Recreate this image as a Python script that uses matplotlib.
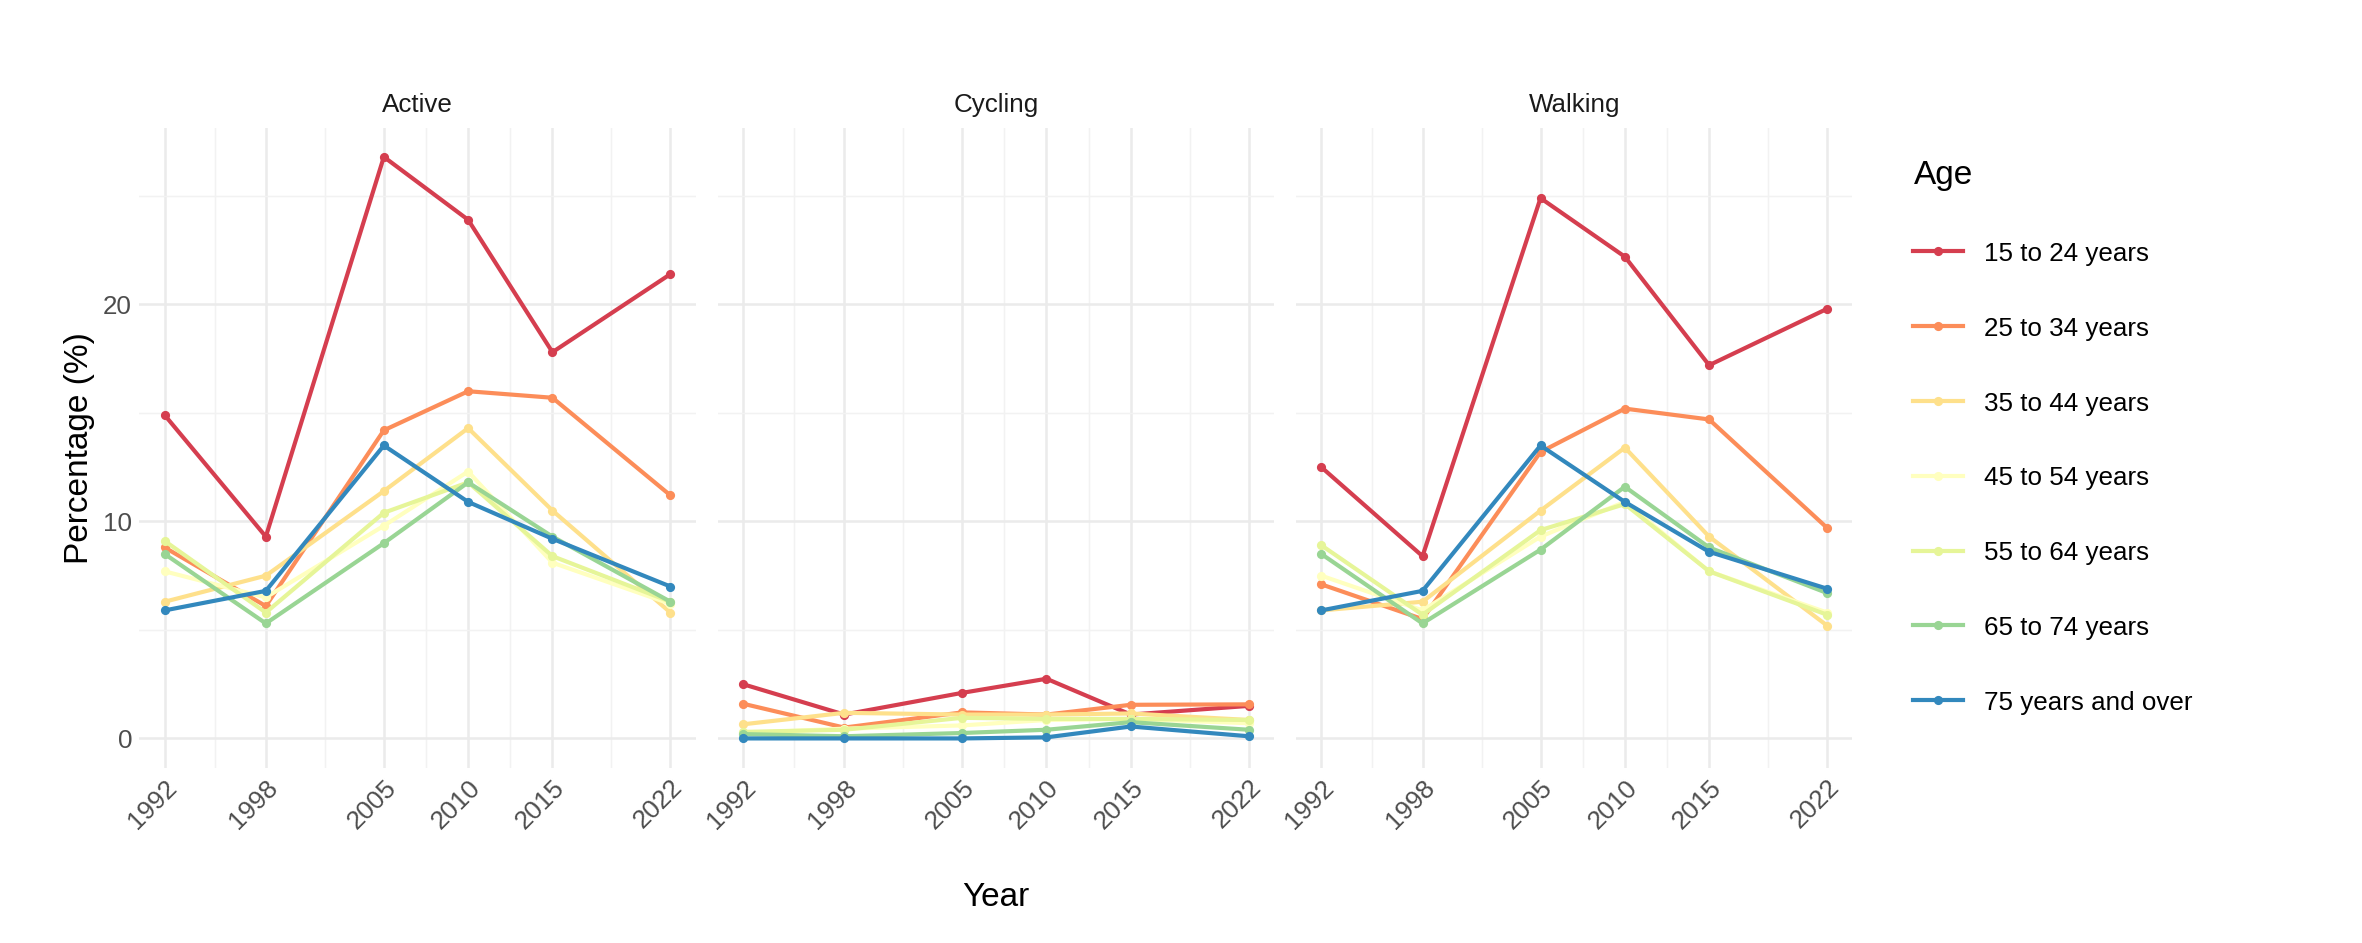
import matplotlib.pyplot as plt

plt.rcParams['font.family'] = ['Liberation Sans', 'DejaVu Sans']

years = [1992, 1998, 2005, 2010, 2015, 2022]
ages = ["15 to 24 years", "25 to 34 years", "35 to 44 years", "45 to 54 years",
        "55 to 64 years", "65 to 74 years", "75 years and over"]
colors = ["#D53E4F", "#FC8D59", "#FEE08B", "#FFFFBF", "#E6F598", "#99D594", "#3288BD"]

active = [
    [14.9, 9.3, 26.8, 23.9, 17.8, 21.4],
    [8.8, 6.1, 14.2, 16.0, 15.7, 11.2],
    [6.3, 7.5, 11.4, 14.3, 10.5, 5.8],
    [7.7, 6.5, 9.8, 12.3, 8.1, 6.2],
    [9.1, 5.8, 10.4, 11.8, 8.4, 6.3],
    [8.5, 5.3, 9.0, 11.8, 9.3, 6.3],
    [5.9, 6.8, 13.5, 10.9, 9.2, 7.0],
]
cycling = [
    [2.5, 1.1, 2.1, 2.75, 1.1, 1.5],
    [1.6, 0.5, 1.2, 1.1, 1.55, 1.57],
    [0.65, 1.18, 1.1, 1.1, 1.15, 0.85],
    [0.25, 0.45, 0.6, 0.85, 0.9, 0.7],
    [0.3, 0.4, 0.95, 0.9, 0.9, 0.85],
    [0.2, 0.1, 0.25, 0.4, 0.75, 0.4],
    [0.0, 0.0, 0.0, 0.05, 0.55, 0.1],
]
walking = [
    [12.5, 8.4, 24.9, 22.2, 17.2, 19.8],
    [7.1, 5.5, 13.2, 15.2, 14.7, 9.7],
    [5.9, 6.3, 10.5, 13.4, 9.3, 5.2],
    [7.5, 5.9, 9.3, 10.9, 7.7, 5.8],
    [8.9, 5.7, 9.6, 10.8, 7.7, 5.7],
    [8.5, 5.3, 8.7, 11.6, 8.8, 6.7],
    [5.9, 6.8, 13.5, 10.9, 8.6, 6.9],
]
panels = [("Active", active), ("Cycling", cycling), ("Walking", walking)]

fig = plt.figure(figsize=(15.75, 6.29), dpi=150)
left, width, gap = 0.059, 0.2355, 0.0093
bottom, height = 0.186, 0.678
ymax = 26.8
ylim = (-0.05 * ymax, ymax * 1.05)
minor_x = [1995, 2001.5, 2007.5, 2012.5, 2018.5]

axes = []
for i, (name, data) in enumerate(panels):
    ax = fig.add_axes([left + i * (width + gap), bottom, width, height])
    axes.append(ax)
    for j, series in enumerate(data):
        ax.plot(years, series, color=colors[j], lw=2.0, marker='o', ms=3.4,
                label=ages[j], zorder=3)
    ax.set_xlim(1990.5, 2023.5)
    ax.set_ylim(*ylim)
    ax.set_xticks(years)
    ax.set_xticks(minor_x, minor=True)
    ax.set_yticks([0, 10, 20])
    ax.set_yticks([5, 15, 25], minor=True)
    ax.grid(which='major', color='#EBEBEB', lw=1.2, zorder=0)
    ax.grid(which='minor', color='#F2F2F2', lw=0.7, zorder=0)
    for s in ax.spines.values():
        s.set_visible(False)
    ax.tick_params(which='both', length=0, labelsize=12.5, colors='#4D4D4D')
    for lab in ax.get_xticklabels():
        lab.set_rotation(45)
        lab.set_ha('right')
        lab.set_rotation_mode('anchor')
    ax.set_title(name, fontsize=12.5, color='#1A1A1A', pad=8)
    if i > 0:
        ax.tick_params(labelleft=False)

axes[0].set_ylabel("Percentage (%)", fontsize=16)
fig.text(left + 1.5 * width + gap, 0.04, "Year", fontsize=16, ha='center')

handles, labels = axes[0].get_legend_handles_labels()
leg = fig.legend(handles, labels, title="Age", loc='upper left',
                 bbox_to_anchor=(0.8, 0.855), frameon=False, fontsize=12.5,
                 title_fontsize=16, labelspacing=1.95, handlelength=1.9)
leg._legend_box.align = "left"

fig.savefig("out.png", dpi=150)
